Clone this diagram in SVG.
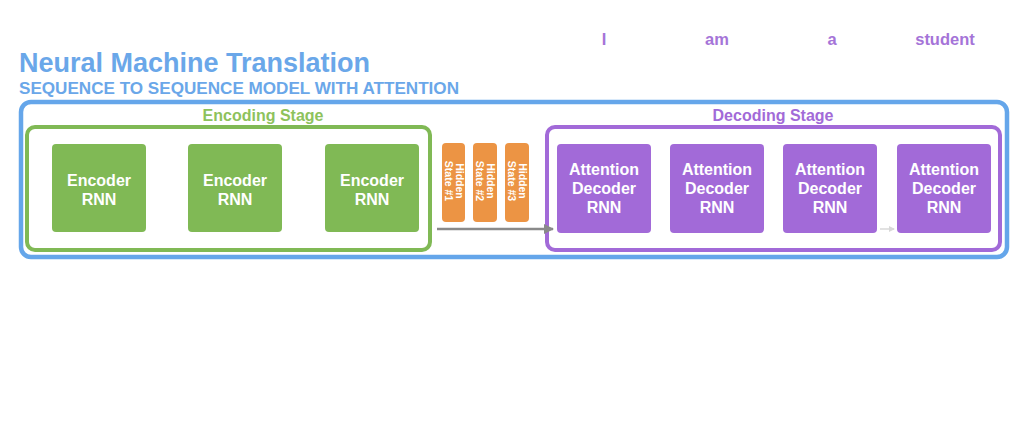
<svg xmlns="http://www.w3.org/2000/svg" width="1018" height="443" viewBox="0 0 1018 443">
<defs>
<style>
text{font-family:"Liberation Sans",Arial,sans-serif;font-weight:bold}
.enc rect{fill:#80b955}
.dec rect{fill:#a26ad8}
.hs rect{fill:#ec9444}
.nt{fill:#fff;font-size:16px;text-anchor:middle}
.ht{fill:#fff;font-size:10.5px;text-anchor:middle}
.word{fill:#a574d8;font-size:16.5px;text-anchor:middle}
</style>
<marker id="ah" markerWidth="10" markerHeight="10" refX="9" refY="5" orient="auto" markerUnits="userSpaceOnUse">
<path d="M0,0 L10,5 L0,10 z" fill="#8a8a8a"/>
</marker>
<marker id="ahl" markerWidth="6" markerHeight="6" refX="5" refY="3" orient="auto" markerUnits="userSpaceOnUse">
<path d="M0,0 L6,3 L0,6 z" fill="#d8d8d8"/>
</marker>
</defs>
<rect width="1018" height="443" fill="#fff"/>
<text x="19" y="72" font-size="27" fill="#6aa7e9">Neural Machine Translation</text>
<text x="19" y="94" font-size="16" fill="#6aa7e9" textLength="440" lengthAdjust="spacingAndGlyphs">SEQUENCE TO SEQUENCE MODEL WITH ATTENTION</text>
<g id="words">
<text class="word" x="604" y="45">I</text>
<text class="word" x="717" y="45">am</text>
<text class="word" x="832" y="45">a</text>
<text class="word" x="945" y="45">student</text>
</g>
<g id="outer"><rect x="21" y="102" width="986" height="155" rx="10" fill="none" stroke="#65a6ea" stroke-width="4.5"/></g>
<g id="encoding-stage">
<rect x="27" y="127" width="403" height="123" rx="8" fill="none" stroke="#80b955" stroke-width="4"/>
<text x="263" y="121" font-size="16" fill="#8ec25c" text-anchor="middle">Encoding Stage</text>
</g>
<g id="decoding-stage">
<rect x="547" y="127" width="453" height="123" rx="8" fill="none" stroke="#a26ad8" stroke-width="4"/>
<text x="773" y="121" font-size="16" fill="#a26ad8" text-anchor="middle">Decoding Stage</text>
</g>
<g id="enc1" class="enc"><rect x="52" y="144" width="94" height="88" rx="4"/><text class="nt" x="99" y="186">Encoder</text><text class="nt" x="99" y="205">RNN</text></g>
<g id="enc2" class="enc"><rect x="188" y="144" width="94" height="88" rx="4"/><text class="nt" x="235" y="186">Encoder</text><text class="nt" x="235" y="205">RNN</text></g>
<g id="enc3" class="enc"><rect x="325" y="144" width="94" height="88" rx="4"/><text class="nt" x="372" y="186">Encoder</text><text class="nt" x="372" y="205">RNN</text></g>
<g id="hs1" class="hs"><rect x="442" y="143" width="23" height="79" rx="4"/><text class="ht" transform="translate(453.5,181) rotate(90)"><tspan x="0" y="-2">Hidden</tspan><tspan x="0" y="9">State #1</tspan></text></g>
<g id="hs2" class="hs"><rect x="473" y="143" width="24" height="79" rx="4"/><text class="ht" transform="translate(485,181) rotate(90)"><tspan x="0" y="-2">Hidden</tspan><tspan x="0" y="9">State #2</tspan></text></g>
<g id="hs3" class="hs"><rect x="505" y="143" width="24" height="79" rx="4"/><text class="ht" transform="translate(517,181) rotate(90)"><tspan x="0" y="-2">Hidden</tspan><tspan x="0" y="9">State #3</tspan></text></g>
<g id="dec1" class="dec"><rect x="557" y="144" width="94" height="89" rx="4"/><text class="nt" x="604" y="175">Attention</text><text class="nt" x="604" y="194">Decoder</text><text class="nt" x="604" y="213">RNN</text></g>
<g id="dec2" class="dec"><rect x="670" y="144" width="94" height="89" rx="4"/><text class="nt" x="717" y="175">Attention</text><text class="nt" x="717" y="194">Decoder</text><text class="nt" x="717" y="213">RNN</text></g>
<g id="dec3" class="dec"><rect x="783" y="144" width="94" height="89" rx="4"/><text class="nt" x="830" y="175">Attention</text><text class="nt" x="830" y="194">Decoder</text><text class="nt" x="830" y="213">RNN</text></g>
<g id="dec4" class="dec"><rect x="897" y="144" width="94" height="89" rx="4"/><text class="nt" x="944" y="175">Attention</text><text class="nt" x="944" y="194">Decoder</text><text class="nt" x="944" y="213">RNN</text></g>
<g id="connectors">
<line x1="437" y1="229" x2="553" y2="229" stroke="#8a8a8a" stroke-width="2.5" marker-end="url(#ah)"/>
<line x1="880" y1="229" x2="894" y2="229" stroke="#d8d8d8" stroke-width="1.5" marker-end="url(#ahl)"/>
</g>
</svg>
